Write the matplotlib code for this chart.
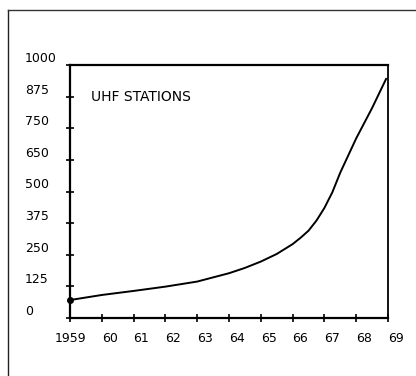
import matplotlib
matplotlib.use("Agg")
import matplotlib.pyplot as plt
from matplotlib.lines import Line2D

plt.rcParams["font.family"] = ["DejaVu Sans"]

# values
years = [1959, 1960, 1961, 1962, 1963, 1964, 1964.5, 1965, 1965.5, 1966,
         1966.25, 1966.5, 1966.75, 1967, 1967.25, 1967.5, 1968, 1968.5, 1968.94]
stations = [71, 91, 107, 124, 144, 177, 198, 223, 253, 292,
            317, 345, 385, 435, 497, 575, 710, 830, 945]

ytick_pos = [0, 125, 250, 375, 500, 625, 750, 875, 1000]
ytick_labels = ["0", "125", "250", "375", "500", "650", "750", "875", "1000"]
xtick_pos = list(range(1959, 1970))
xtick_labels = ["1959", "60", "61", "62", "63", "64", "65", "66", "67", "68", "69"]

fig = plt.figure(figsize=(4.16, 3.76), dpi=100)
ax = fig.add_axes([70 / 416, 58 / 376, 318 / 416, 253 / 376])

ax.plot(years, stations, color="black", lw=1.4, solid_joinstyle="round")
ax.plot(years[0], stations[0], "o", color="black", ms=4, clip_on=False)

ax.set_xlim(1959, 1969)
ax.set_ylim(0, 1000)

ax.set_yticks(ytick_pos)
ax.set_yticklabels(ytick_labels, fontsize=9, ha="left", va="bottom")
ax.set_xticks(xtick_pos)
ax.set_xticklabels(xtick_labels, fontsize=9)
for i, lbl in enumerate(ax.get_xticklabels()):
    lbl.set_ha("center" if i == 0 else "left")

ax.tick_params(axis="y", direction="inout", length=6, width=1.2, pad=29.5)
ax.tick_params(axis="x", direction="inout", length=6, width=1.2, pad=7)
ax.tick_params(axis="y", left=True, right=False)
ax.tick_params(axis="x", bottom=True, top=False)

for side in ["left", "bottom", "top"]:
    ax.spines[side].set_linewidth(1.6)
ax.spines["right"].set_linewidth(1.3)

ax.text(0.065, 0.875, "UHF STATIONS", transform=ax.transAxes,
        fontsize=10, ha="left", va="center")

# outer frame (top and left edges)
fig.add_artist(Line2D([8 / 416, 8 / 416], [0, 1 - 10 / 376],
                      transform=fig.transFigure, color="#222", lw=1.0))
fig.add_artist(Line2D([8 / 416, 1], [1 - 10 / 376, 1 - 10 / 376],
                      transform=fig.transFigure, color="#333", lw=1.0))

fig.savefig("out.png", dpi=100)
